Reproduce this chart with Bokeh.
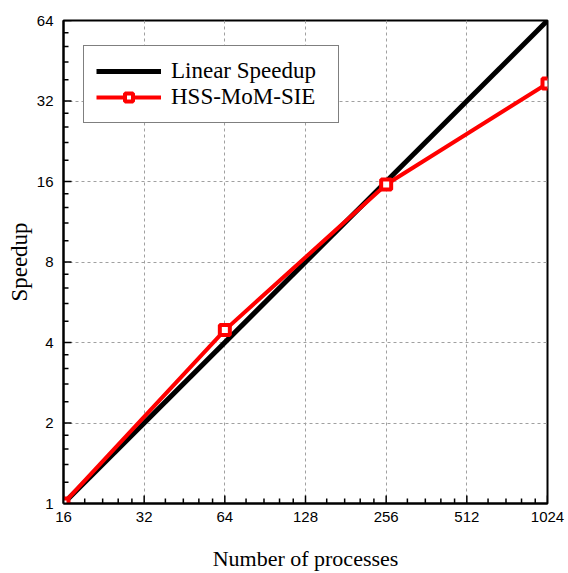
import math
from bokeh.plotting import figure
from bokeh.models import Range1d, FixedTicker, Legend, LegendItem
from bokeh.embed import file_html
from bokeh.resources import INLINE

# ---- data ----
x_ticks = [16, 32, 64, 128, 256, 512, 1024]
y_ticks = [1, 2, 4, 8, 16, 32, 64]
linear_x = [16, 1024]
linear_y = [1, 64]
hss_x = [16, 64, 256, 1024]
hss_y = [1, 4.45, 15.6, 37.2]


def minors(t, n=5):
    out = []
    for a, b in zip(t[:-1], t[1:]):
        out += [a + (b - a) * i / n for i in range(1, n)]
    return out


x_minor = minors(x_ticks)
y_minor = minors(y_ticks)

SERIF = "Liberation Serif"
SANS = "Liberation Sans"

p = figure(width=568, height=573, x_axis_type="log", y_axis_type="log",
           x_range=Range1d(x_ticks[0], x_ticks[-1]),
           y_range=Range1d(y_ticks[0], y_ticks[-1]),
           output_backend="svg", toolbar_location=None,
           min_border_left=63, min_border_right=21,
           min_border_top=20, min_border_bottom=69)

p.background_fill_color = "white"
p.border_fill_color = "white"
p.outline_line_color = "black"
p.outline_line_width = 2
p.outline_line_alpha = 1

p.xaxis.ticker = FixedTicker(ticks=x_ticks, minor_ticks=x_minor)
p.yaxis.ticker = FixedTicker(ticks=y_ticks, minor_ticks=y_minor)
p.xgrid.ticker = FixedTicker(ticks=x_ticks)
p.ygrid.ticker = FixedTicker(ticks=y_ticks)
p.xaxis.major_label_overrides = {v: str(v) for v in x_ticks}
p.yaxis.major_label_overrides = {v: str(v) for v in y_ticks}

for ax in (p.xaxis[0], p.yaxis[0]):
    ax.axis_line_color = "black"
    ax.axis_line_width = 2
    ax.major_tick_in = 0
    ax.major_tick_out = 0
    ax.minor_tick_in = 0
    ax.minor_tick_out = 0
    ax.major_label_text_font = SANS
    ax.major_label_text_font_size = "15px"
    ax.major_label_text_color = "black"
    ax.axis_label_text_font = SERIF
    ax.axis_label_text_font_style = "normal"
    ax.axis_label_text_color = "black"

p.xaxis.axis_label = "Number of processes"
p.yaxis.axis_label = "Speedup"
p.xaxis.axis_label_text_font_size = "22px"
p.yaxis.axis_label_text_font_size = "23px"
p.xaxis.major_label_standoff = 8
p.yaxis.major_label_standoff = 10
p.xaxis.axis_label_standoff = 21
p.yaxis.axis_label_standoff = 2

for g in (p.xgrid[0], p.ygrid[0]):
    g.grid_line_color = "#a0a0a0"
    g.grid_line_dash = "3 3"
    g.grid_line_width = 1

# inward tick marks (half of each dash falls outside the frame and is clipped)
tick_style = dict(marker="dash", line_color="black", line_width=1.5)
p.scatter(x_ticks, [y_ticks[0]] * len(x_ticks), size=16, angle=math.pi / 2, **tick_style)
p.scatter(x_minor, [y_ticks[0]] * len(x_minor), size=10, angle=math.pi / 2, **tick_style)
p.scatter([x_ticks[0]] * len(y_ticks), y_ticks, size=16, **tick_style)
p.scatter([x_ticks[0]] * len(y_minor), y_minor, size=10, **tick_style)

r_lin = p.line(linear_x, linear_y, line_color="black", line_width=5)
r_hss = p.line(hss_x, hss_y, line_color="red", line_width=4)
r_hss_m = p.scatter(hss_x, hss_y, marker="square", size=10,
                    line_color="red", line_width=4, fill_color="white")

legend = Legend(items=[
    LegendItem(label="Linear Speedup", renderers=[r_lin]),
    LegendItem(label="HSS-MoM-SIE", renderers=[r_hss, r_hss_m]),
], location=(20, 380))
legend.label_text_font = SERIF
legend.label_text_font_size = "23px"
legend.label_text_color = "black"
legend.glyph_width = 65
legend.glyph_height = 20
legend.label_standoff = 10
legend.label_width = 155
legend.padding = 12
legend.spacing = 0
legend.margin = 0
legend.border_line_color = "black"
legend.border_line_width = 1
legend.background_fill_color = "white"
legend.background_fill_alpha = 1
p.add_layout(legend, "center")

open("out.html", "w").write(file_html(p, INLINE))
